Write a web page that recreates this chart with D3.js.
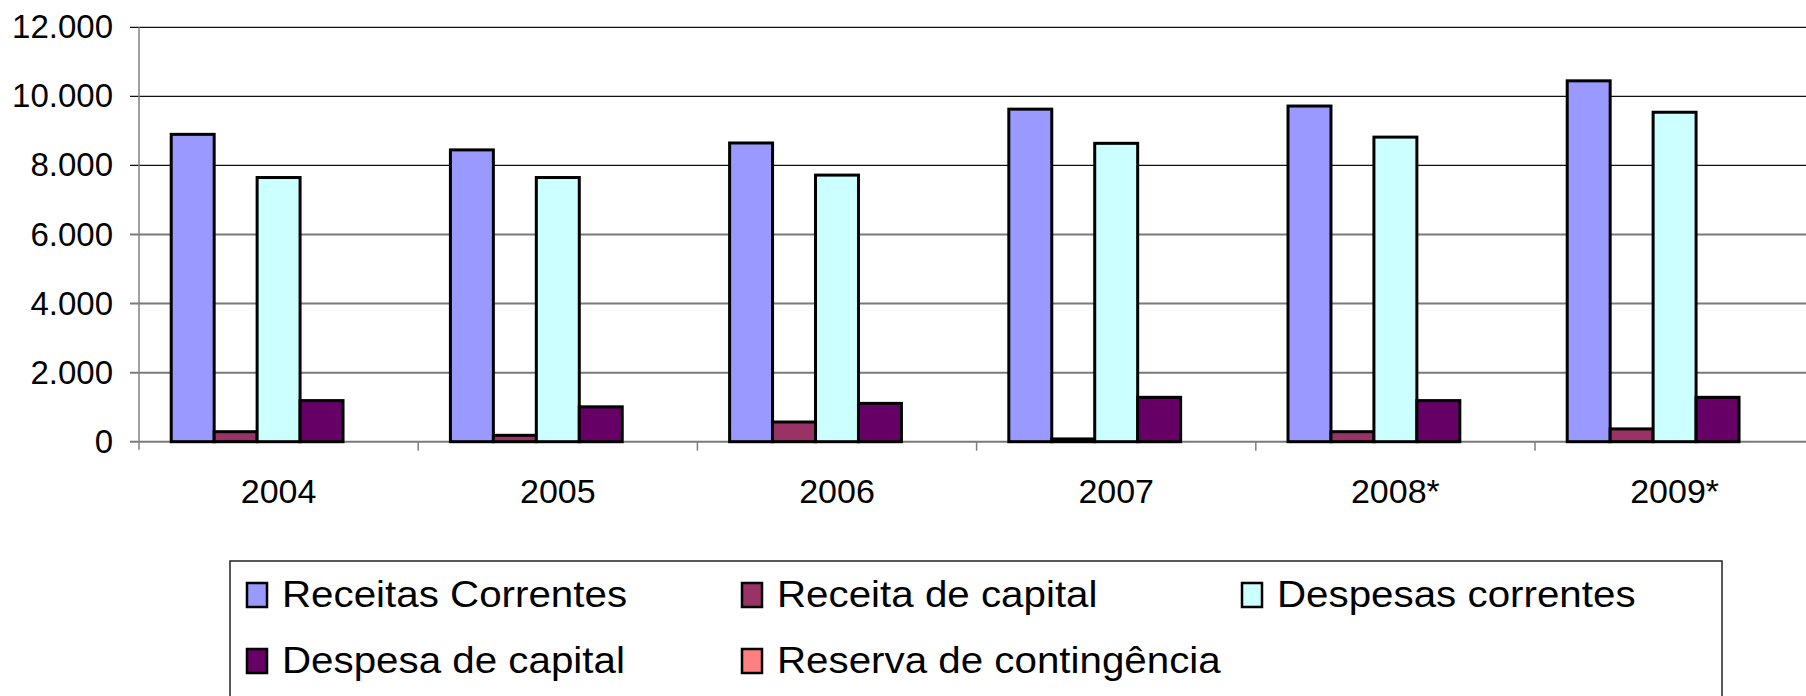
<!DOCTYPE html>
<html>
<head>
<meta charset="utf-8">
<script src="https://cdn.jsdelivr.net/npm/d3@7"></script>
<style>
  body { margin: 0; background: #fff; }
  svg { display: block; font-family: Arial, "Liberation Sans", sans-serif; }
</style>
</head>
<body>
<svg id="chart" width="1806" height="696"></svg>
<script>
// valores
const anos = ["2004", "2005", "2006", "2007", "2008*", "2009*"];
const series = ["Receitas Correntes", "Receita de capital", "Despesas correntes", "Despesa de capital", "Reserva de contingência"];
const receitasCorrentes = [8900, 8450, 8650, 9630, 9720, 10450];
const receitaCapital = [290, 185, 570, 80, 290, 370];
const despesasCorrentes = [7650, 7650, 7720, 8640, 8820, 9540];
const despesaCapital = [1190, 1010, 1110, 1285, 1190, 1285];
const reservaContingencia = [0, 0, 0, 0, 0, 0];
const yTicks = [0, 2000, 4000, 6000, 8000, 10000, 12000];
const cores = ["#9999FF", "#993366", "#CCFFFF", "#660066", "#FF8080"];

const valores = [receitasCorrentes, receitaCapital, despesasCorrentes, despesaCapital, reservaContingencia];

const svg = d3.select("#chart");
const config = { left: 139, top: 27.3, bottom: 441.7, step: 279.2 };

const fmt = d3.formatLocale({ decimal: ",", thousands: ".", grouping: [3], currency: ["", ""] }).format(",");

const x0 = d3.scaleBand()
  .domain(anos)
  .range([config.left, config.left + config.step * anos.length])
  .paddingInner(1.5 / 6.5)
  .paddingOuter(0.75 / 6.5);

const x1 = d3.scaleBand()
  .domain(d3.range(series.length))
  .range([0, x0.bandwidth()]);

const y = d3.scaleLinear()
  .domain([0, 12000])
  .range([config.bottom, config.top]);

// grade
svg.append("g")
  .selectAll("line")
  .data(yTicks)
  .join("line")
  .attr("x1", config.left - 9)
  .attr("x2", 1806)
  .attr("y1", d => y(d))
  .attr("y2", d => y(d))
  .attr("stroke", d => d >= 8000 ? "#111" : "#7a7a7a")
  .attr("stroke-width", d => d >= 8000 ? 1.2 : 2);

// eixo y
const yAxis = svg.append("g")
  .attr("transform", `translate(${config.left},0)`)
  .call(d3.axisLeft(y).tickValues(yTicks).tickFormat(fmt).tickSize(0).tickPadding(26));
yAxis.select(".domain").remove();
yAxis.selectAll("text")
  .attr("font-size", 33)
  .attr("fill", "#000")
  .attr("font-family", "Arial, 'Liberation Sans', sans-serif");

svg.append("line")
  .attr("x1", config.left).attr("x2", config.left)
  .attr("y1", config.top).attr("y2", config.bottom + 8)
  .attr("stroke", "#808080").attr("stroke-width", 1.5);

// marcas entre categorias
svg.append("g")
  .selectAll("line")
  .data(anos.slice(1))
  .join("line")
  .attr("x1", d => x0(d) - x0.step() * x0.paddingOuter())
  .attr("x2", d => x0(d) - x0.step() * x0.paddingOuter())
  .attr("y1", config.bottom)
  .attr("y2", config.bottom + 9)
  .attr("stroke", "#808080")
  .attr("stroke-width", 1.5);

// barras
const grupos = svg.append("g")
  .selectAll("g")
  .data(anos)
  .join("g")
  .attr("transform", d => `translate(${x0(d)},0)`);

grupos.selectAll("rect")
  .data((d, i) => valores.map((s, k) => ({ k: k, v: s[i] })).filter(e => e.v > 0))
  .join("rect")
  .attr("x", d => x1(d.k))
  .attr("width", x1.bandwidth())
  .attr("y", d => y(d.v))
  .attr("height", d => y(0) - y(d.v))
  .attr("fill", d => cores[d.k])
  .attr("stroke", "#000")
  .attr("stroke-width", 3);

// rótulos das categorias
svg.append("g")
  .selectAll("text")
  .data(anos)
  .join("text")
  .attr("x", d => x0(d) + x0.step() / 2 - x0.step() * x0.paddingOuter())
  .attr("y", 503)
  .attr("text-anchor", "middle")
  .attr("font-size", 34)
  .text(d => d);

// legenda
svg.append("rect")
  .attr("x", 230).attr("y", 561)
  .attr("width", 1492).attr("height", 160)
  .attr("fill", "#fff")
  .attr("stroke", "#222")
  .attr("stroke-width", 1.5);

const legPos = [[246, 606], [741, 606], [1241, 606], [246, 672], [741, 672]];

const leg = svg.append("g")
  .selectAll("g")
  .data(series)
  .join("g")
  .attr("transform", (d, i) => `translate(${legPos[i][0]},${legPos[i][1]})`);

leg.append("rect")
  .attr("x", 1).attr("y", -23)
  .attr("width", 20).attr("height", 24)
  .attr("fill", (d, i) => cores[i])
  .attr("stroke", "#000")
  .attr("stroke-width", 2.5);

leg.append("text")
  .attr("transform", "translate(36,1) scale(1.09,1)")
  .attr("font-size", 37)
  .text(d => d);
</script>
</body>
</html>
